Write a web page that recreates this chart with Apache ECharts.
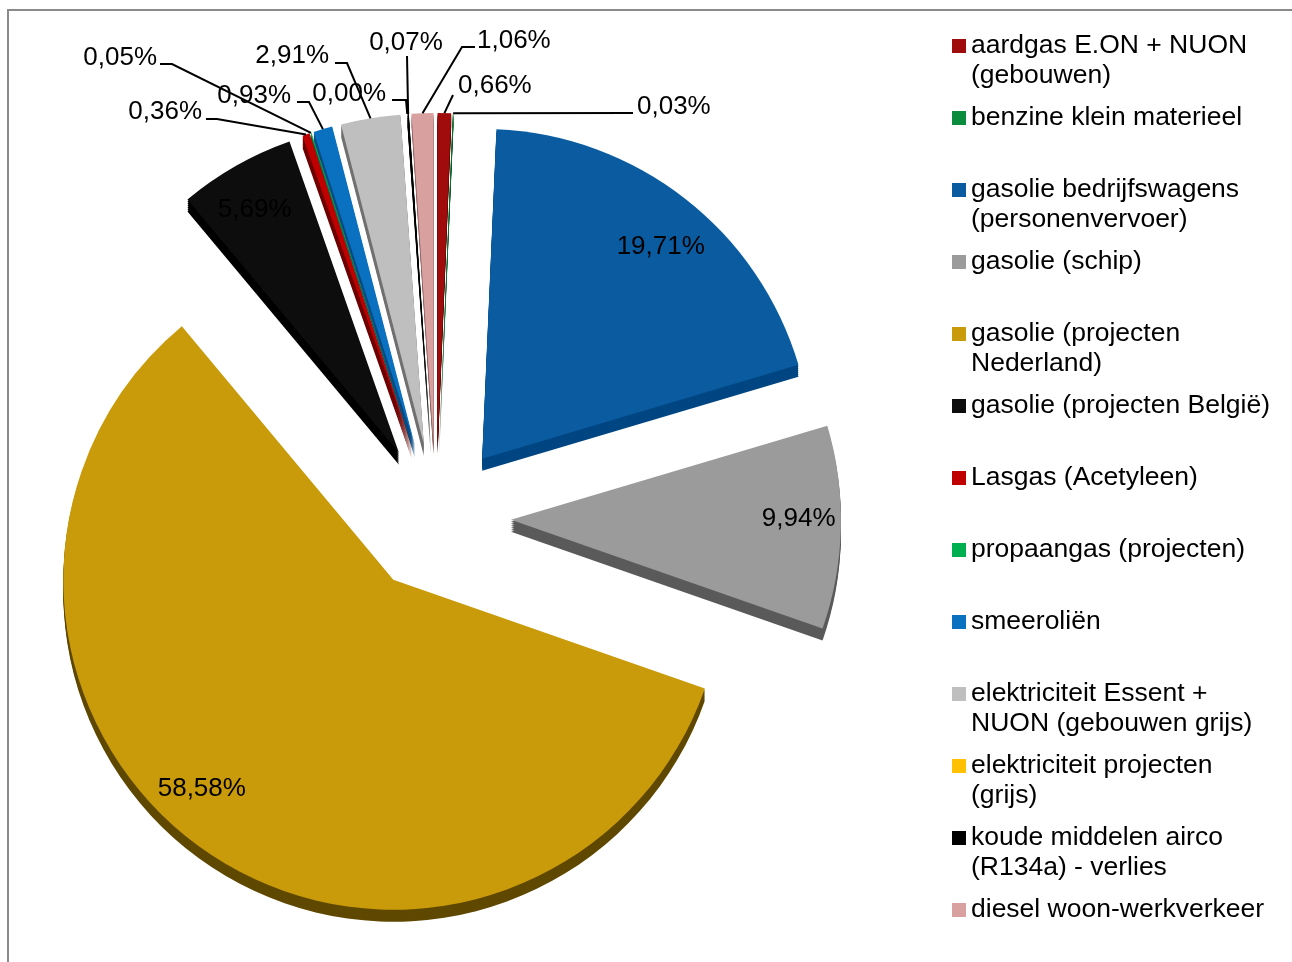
<!DOCTYPE html>
<html>
<head>
<meta charset="utf-8">
<script src="https://cdn.jsdelivr.net/npm/echarts@6/dist/echarts.min.js"></script>
<style>
html,body{margin:0;padding:0;background:#ffffff;}
#chart{width:1292px;height:962px;}
</style>
</head>
<body>
<div id="chart"></div>
<script>
// ---------- data ----------
const categories = [
  'aardgas E.ON + NUON (gebouwen)',
  'benzine klein materieel',
  'gasolie bedrijfswagens (personenvervoer)',
  'gasolie (schip)',
  'gasolie (projecten Nederland)',
  'gasolie (projecten België)',
  'Lasgas (Acetyleen)',
  'propaangas (projecten)',
  'smeeroliën',
  'elektriciteit Essent + NUON (gebouwen grijs)',
  'elektriciteit projecten (grijs)',
  'koude middelen airco (R134a) - verlies',
  'diesel woon-werkverkeer'
];
const legendLabels = [
  'aardgas E.ON + NUON\n(gebouwen)',
  'benzine klein materieel',
  'gasolie bedrijfswagens\n(personenvervoer)',
  'gasolie (schip)',
  'gasolie (projecten\nNederland)',
  'gasolie (projecten België)',
  'Lasgas (Acetyleen)',
  'propaangas (projecten)',
  'smeeroliën',
  'elektriciteit Essent +\nNUON (gebouwen grijs)',
  'elektriciteit projecten\n(grijs)',
  'koude middelen airco\n(R134a) - verlies',
  'diesel woon-werkverkeer'
];
const shares = [0.66, 0.03, 19.71, 9.94, 58.58, 5.69, 0.36, 0.05, 0.93, 2.91, 0.00, 0.07, 1.06];

// ---------- styles ----------
const topColors  = ['#A00B0B','#0A8C3C','#0A5BA0','#9B9B9B','#C99A0A','#0D0D0D','#C00000','#00B050','#0A70C0','#BFBFBF','#FFC000','#000000','#D9A0A0'];
const sideColors = ['#5C0505','#064F22','#004682','#5A5A5A','#5F4800','#000000','#6E0000','#006530','#064A84','#707070','#8C6A00','#000000','#8E6262'];

const FONT = '"Liberation Sans", Arial, sans-serif';
const FS = 26;
const CENTER = [436, 518];
const R = 330;
const EXPLODE = 75;
const DEPTH = 12;
const DEPTH_STEPS = 6;
const INSIDE_RATIO = 0.86;
const insideIdx = [2, 3, 4, 5];
// small placement nudges for the inside labels (layout only)
const insideNudge = {2: [4, 12], 3: [4, -8], 4: [-30, -24], 5: [-4, 4]};

// label placement (layout only): text anchor and leader-line route on the label side
const outerLabelSpec = {
  0:  {x: 458, y: 86,  align: 'left',   route: [[453, 95]]},
  1:  {x: 637, y: 107, align: 'left',   route: [[633, 113]]},
  6:  {x: 202, y: 112, align: 'right',  route: [[217, 119], [206, 119]]},
  7:  {x: 157, y: 58,  align: 'right',  route: [[172, 64], [160, 64]]},
  8:  {x: 291, y: 96,  align: 'right',  route: [[309, 102], [297, 102]]},
  9:  {x: 329, y: 56,  align: 'right',  route: [[347, 63], [335, 63]]},
  10: {x: 386, y: 94,  align: 'right',  route: [[406, 100], [392, 100]]},
  11: {x: 406, y: 43,  align: 'center', route: [[407, 56]]},
  12: {x: 477, y: 41,  align: 'left',   route: [[462, 47], [475, 47]]}
};

function fmt(v) { return v.toFixed(2).replace('.', ',') + '%'; }

const chart = echarts.init(document.getElementById('chart'), null, {renderer: 'canvas'});

const makeData = (colors, selected) => categories.map((n, i) => ({
  name: n,
  value: shares[i],
  selected: selected,
  itemStyle: {color: colors[i]}
}));

const labelData = categories.map((n, i) => ({
  name: n,
  value: shares[i],
  itemStyle: {color: 'rgba(0,0,0,0)'},
  label: {position: insideIdx.indexOf(i) >= 0 ? 'inside' : 'outside'},
  labelLine: {show: insideIdx.indexOf(i) < 0}
}));

function layoutLabel(p) {
  const i = p.dataIndex;
  if (insideIdx.indexOf(i) >= 0) {
    const r = p.labelRect;
    let ux = r.x + r.width / 2 - CENTER[0];
    let uy = r.y + r.height / 2 - CENTER[1];
    const n = Math.hypot(ux, uy) || 1;
    ux /= n; uy /= n;
    const d = EXPLODE + INSIDE_RATIO * R;
    const nd = insideNudge[i] || [0, 0];
    return {x: CENTER[0] + ux * d + nd[0], y: CENTER[1] + uy * d + nd[1], align: 'center', verticalAlign: 'middle'};
  }
  const s = outerLabelSpec[i];
  if (!s) return {};
  const pts = p.labelLinePoints;
  const out = {x: s.x, y: s.y, align: s.align, verticalAlign: 'middle'};
  if (pts && pts.length > 1) {
    let ux = pts[1][0] - pts[0][0];
    let uy = pts[1][1] - pts[0][1];
    const n = Math.hypot(ux, uy) || 1;
    ux /= n; uy /= n;
    const start = [pts[0][0] + ux * EXPLODE, pts[0][1] + uy * EXPLODE];
    out.labelLinePoints = [start].concat(s.route);
  }
  return out;
}

const legends = categories.map((n, i) => {
  const twoLine = legendLabels[i].indexOf('\n') >= 0;
  const lh = 30;
  const yc = 46 + 72 * i;
  return {
    orient: 'vertical',
    left: 952,
    top: twoLine ? yc - 1.5 * lh : yc - 0.5 * lh,
    padding: 0,
    itemWidth: 14,
    itemHeight: 14,
    itemGap: 0,
    icon: 'rect',
    selectedMode: false,
    data: [n],
    formatter: () => (twoLine ? '\n' : '') + legendLabels[i],
    textStyle: {fontFamily: FONT, fontSize: 26.5, lineHeight: lh, color: '#000'}
  };
});

const pieBase = {
  type: 'pie',
  radius: [0, R],
  startAngle: 90,
  clockwise: true,
  emphasis: {disabled: true},
  itemStyle: {borderWidth: 0}
};

const series = [
  Object.assign({}, pieBase, {
    name: 'top',
    center: CENTER,
    selectedMode: 'multiple',
    selectedOffset: EXPLODE,
    z: 3,
    label: {show: false},
    labelLine: {show: false},
    data: makeData(topColors, true)
  })
];
// extruded side of the 3D pie: stacked darker copies shifted downward
for (let k = DEPTH_STEPS; k >= 1; k--) {
  series.push(Object.assign({}, pieBase, {
    name: 'side' + k,
    center: [CENTER[0], CENTER[1] + DEPTH * k / DEPTH_STEPS],
    selectedMode: 'multiple',
    selectedOffset: EXPLODE,
    silent: true,
    z: 2,
    label: {show: false},
    labelLine: {show: false},
    data: makeData(sideColors, true)
  }));
}
series.push(Object.assign({}, pieBase, {
  name: 'labels',
  center: CENTER,
  selectedMode: false,
  silent: true,
  z: 4,
  avoidLabelOverlap: false,
  label: {
    show: true,
    formatter: p => fmt(p.value),
    fontFamily: FONT,
    fontSize: FS,
    color: '#000'
  },
  labelLine: {show: true, length: 20, length2: 10, lineStyle: {color: '#000', width: 2}},
  labelLayout: layoutLabel,
  data: labelData
}));

chart.setOption({
  animation: false,
  backgroundColor: '#ffffff',
  graphic: [{
    type: 'rect',
    shape: {x: 8, y: 10, width: 1400, height: 1100},
    style: {fill: 'none', stroke: '#8A8A8A', lineWidth: 2},
    silent: true,
    z: 0
  }],
  legend: legends,
  series: series
});
</script>
</body>
</html>
